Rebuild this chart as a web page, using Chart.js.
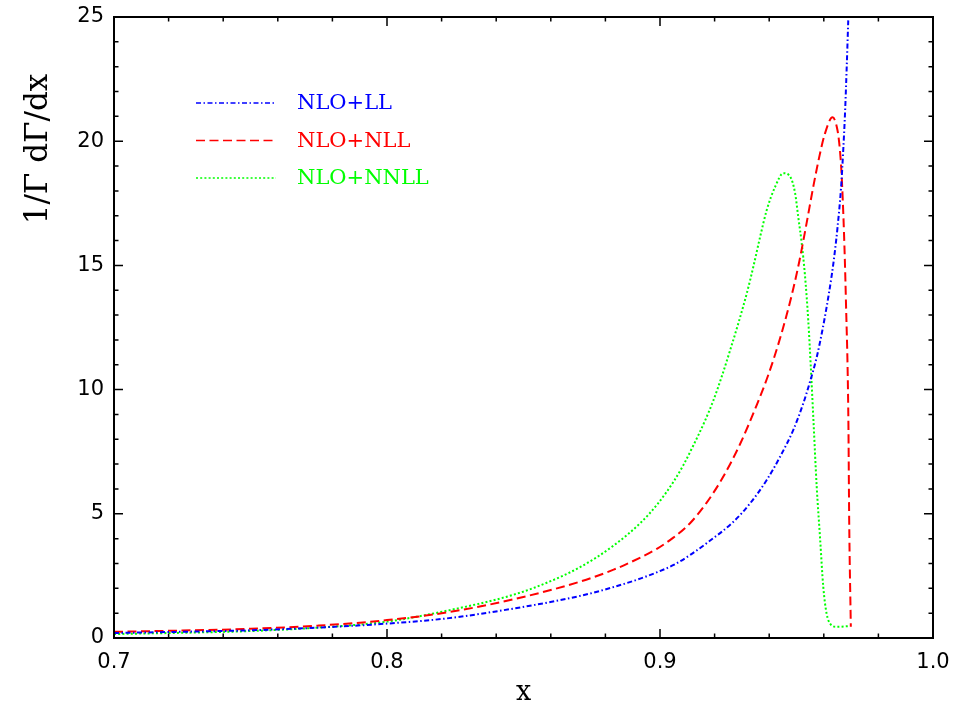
<!DOCTYPE html>
<html>
<head>
<meta charset="utf-8">
<title>1/Γ dΓ/dx</title>
<script src="https://cdn.jsdelivr.net/npm/chart.js@4.4.1/dist/chart.umd.min.js"></script>
<style>
  html, body { margin: 0; padding: 0; background: #fff; }
  #chart { display: block; }
</style>
</head>
<body>
<canvas id="chart" width="956" height="706"></canvas>
<script>
// --- DATOS ---
const xTickValues = [0.7, 0.8, 0.9, 1.0];
const yTickValues = [0, 5, 10, 15, 20, 25];
const seriesLabels = ['NLO+LL', 'NLO+NLL', 'NLO+NNLL'];
const yAxisTitle = '1/Γ dΓ/dx';
const xAxisTitle = 'x';

// NLO+LL (azul, punto-raya)
const xLL = [0.700, 0.725, 0.750, 0.775, 0.800, 0.822, 0.846, 0.871, 0.883, 0.893, 0.899, 0.905, 0.911, 0.917,
  0.9269, 0.933, 0.9391, 0.944, 0.9488, 0.9525, 0.9549, 0.9574, 0.9595, 0.961, 0.9629, 0.9641, 0.9650,
  0.9663, 0.9671, 0.9678, 0.9684, 0.969, 0.9695];
const yLL = [0.20, 0.25, 0.31, 0.42, 0.58, 0.79, 1.18, 1.70, 2.05, 2.40, 2.65, 2.94, 3.34, 3.81,
  4.68, 5.42, 6.36, 7.30, 8.37, 9.45, 10.3, 11.3, 12.4, 13.3, 14.6, 15.6, 16.5,
  18.1, 19.6, 21.2, 23.0, 25.0, 26.5];

// NLO+NLL (rojo, rayas)
const xNLL = [0.700, 0.725, 0.750, 0.775, 0.800, 0.822, 0.846, 0.871, 0.883, 0.893, 0.899, 0.905, 0.911, 0.9171,
  0.9232, 0.9293, 0.9355, 0.9397, 0.9434, 0.9465, 0.9489, 0.9511, 0.9537, 0.9562, 0.9586, 0.9604, 0.9632,
  0.965, 0.9659, 0.9665, 0.9674, 0.9681, 0.969, 0.9693, 0.9699];
const yNLL = [0.25, 0.30, 0.37, 0.50, 0.72, 1.03, 1.55, 2.28, 2.75, 3.25, 3.60, 4.05, 4.62, 5.45,
  6.50, 7.80, 9.40, 10.6, 11.85, 13.05, 14.1, 15.2, 16.7, 18.2, 19.5, 20.3, 20.96,
  20.45, 19.65, 18.7, 16.3, 13.6, 8.78, 4.75, 0.45];

// NLO+NNLL (verde, puntos)
const xNNLL = [0.700, 0.725, 0.750, 0.775, 0.800, 0.822, 0.846, 0.858, 0.871, 0.883, 0.893, 0.899, 0.905, 0.9085,
  0.9122, 0.9165, 0.9195, 0.9226, 0.9257, 0.9287, 0.9318, 0.9342, 0.9367, 0.9391, 0.9422, 0.9452, 0.9477, 0.9495,
  0.9507, 0.9519, 0.9531, 0.9543, 0.9552, 0.9562, 0.9574, 0.9586, 0.9598, 0.961, 0.9625, 0.9647, 0.9696];
const yNNLL = [0.16, 0.21, 0.28, 0.42, 0.66, 1.10, 1.73, 2.20, 2.87, 3.72, 4.65, 5.38, 6.30, 6.95,
  7.75, 8.75, 9.55, 10.52, 11.59, 12.67, 13.88, 14.95, 16.16, 17.23, 18.17, 18.71, 18.57, 17.9,
  16.9, 15.9, 14.6, 12.8, 11.0, 8.78, 6.09, 4.08, 2.07, 1.0, 0.55, 0.45, 0.48];

const toPoints = (xs, ys) => xs.map((x, i) => ({ x: x, y: ys[i] }));

// --- PLUGINS ---

// Marco y marcas hacia dentro en los cuatro lados
const frameTicks = {
  id: 'frameTicks',
  afterDraw(chart) {
    const { ctx, chartArea: a, scales } = chart;
    const xs = scales.x, ys = scales.y;
    ctx.save();
    ctx.strokeStyle = '#000';
    ctx.lineWidth = 1.5;
    ctx.beginPath();
    for (let i = 0; i <= 15; i++) {
      const px = xs.getPixelForValue(0.7 + i * 0.02);
      const len = i % 5 === 0 ? 9 : 4.5;
      ctx.moveTo(px, a.bottom); ctx.lineTo(px, a.bottom - len);
      ctx.moveTo(px, a.top); ctx.lineTo(px, a.top + len);
    }
    for (let v = 0; v <= 25; v++) {
      const py = ys.getPixelForValue(v);
      const len = v % 5 === 0 ? 9 : 4.5;
      ctx.moveTo(a.left, py); ctx.lineTo(a.left + len, py);
      ctx.moveTo(a.right, py); ctx.lineTo(a.right - len, py);
    }
    ctx.stroke();
    ctx.lineWidth = 2;
    ctx.strokeRect(a.left, a.top, a.right - a.left, a.bottom - a.top);

    // Título del eje Y (arriba, como en el original)
    ctx.translate(a.left - 67, a.top + 132);
    ctx.rotate(-Math.PI / 2);
    ctx.font = '31px "DejaVu Serif"';
    ctx.fillStyle = '#000';
    ctx.textAlign = 'center';
    ctx.textBaseline = 'alphabetic';
    ctx.fillText(yAxisTitle, 0, 0);
    ctx.restore();
  }
};

// Leyenda dentro del área del gráfico
const insideLegend = {
  id: 'insideLegend',
  afterDraw(chart) {
    const { ctx, chartArea: a } = chart;
    ctx.save();
    ctx.font = '21px "DejaVu Serif"';
    ctx.textBaseline = 'middle';
    chart.data.datasets.forEach((ds, i) => {
      const y = a.top + 86 + i * 37.5;
      ctx.strokeStyle = ds.borderColor;
      ctx.lineWidth = 1.5;
      ctx.setLineDash(ds.borderDash);
      ctx.beginPath();
      ctx.moveTo(a.left + 82, y);
      ctx.lineTo(a.left + 162, y);
      ctx.stroke();
      ctx.setLineDash([]);
      ctx.fillStyle = ds.borderColor;
      ctx.fillText(ds.label, a.left + 183, y + 1);
    });
    ctx.restore();
  }
};

// --- GRÁFICO ---
const makeDataset = (label, xs, ys, color, dash) => ({
  label: label,
  data: toPoints(xs, ys),
  borderColor: color,
  borderWidth: 2,
  borderDash: dash,
  pointRadius: 0,
  fill: false,
  cubicInterpolationMode: 'monotone'
});

const noPadding = (s) => { s.paddingTop = 0; s.paddingBottom = 0; s.paddingLeft = 0; s.paddingRight = 0; };

new Chart(document.querySelector('#chart'), {
  type: 'line',
  data: {
    datasets: [
      makeDataset(seriesLabels[0], xLL, yLL, '#0000ff', [5, 2.5, 1.5, 2.5]),
      makeDataset(seriesLabels[1], xNLL, yNLL, '#ff0000', [9, 4.5]),
      makeDataset(seriesLabels[2], xNNLL, yNNLL, '#00ff00', [2, 2.2])
    ]
  },
  options: {
    responsive: false,
    animation: false,
    devicePixelRatio: 1,
    layout: { padding: { top: 17, right: 23, left: 0, bottom: 0 } },
    plugins: { legend: { display: false }, tooltip: { enabled: false } },
    scales: {
      x: {
        type: 'linear',
        min: 0.7,
        max: 1.0,
        grid: { display: false, drawTicks: false },
        border: { display: false },
        afterBuildTicks: (s) => { s.ticks = xTickValues.map(v => ({ value: v })); },
        afterFit: (s) => { s.height = 68; noPadding(s); },
        ticks: {
          color: '#000',
          font: { family: 'DejaVu Sans', size: 21 },
          padding: 12,
          maxRotation: 0,
          callback: (v) => Number(v).toFixed(1)
        },
        title: {
          display: true,
          text: xAxisTitle,
          color: '#000',
          font: { family: 'DejaVu Serif', size: 27, lineHeight: 1 },
          padding: { top: 0, bottom: 0 }
        }
      },
      y: {
        type: 'linear',
        min: 0,
        max: 25,
        grid: { display: false, drawTicks: false },
        border: { display: false },
        afterBuildTicks: (s) => { s.ticks = yTickValues.map(v => ({ value: v })); },
        afterFit: (s) => { s.width = 114; noPadding(s); },
        ticks: {
          color: '#000',
          font: { family: 'DejaVu Sans', size: 21 },
          padding: 10
        }
      }
    }
  },
  plugins: [frameTicks, insideLegend]
});
</script>
</body>
</html>
